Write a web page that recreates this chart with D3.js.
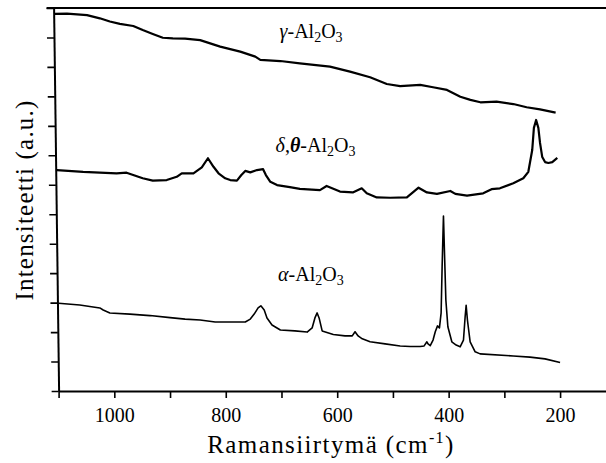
<!DOCTYPE html>
<html><head><meta charset="utf-8">
<script src="https://cdn.jsdelivr.net/npm/d3@7"></script>
<style>body{margin:0;background:#fff} svg{display:block} svg text{font-family:"Liberation Serif","DejaVu Serif","Noto Serif","Times New Roman",Times,serif !important;fill:#000}</style>
</head><body>
<svg id="c" width="606" height="463"></svg>
<script>
// ---- data (Raman shift cm^-1, intensity a.u.) ----
const xTickValues = [1100,1000,900,800,700,600,500,400,300,200];
const xTickLabels = ["","1000","","800","","600","","400","","200"];
const yTickValues = [0,1,2,3,4,5,6,7,8,9,10,11,12,13];

const gammaSeries = [[1108,12.80],[1085,12.81],[1049,12.76],[1026,12.65],[1008,12.54],[990,12.46],[966,12.39],[949,12.25],[931,12.12],[913,11.99],[895,11.97],[873,11.96],[846,11.91],[810,11.69],[774,11.52],[747,11.35],[738,11.24],[702,11.20],[667,11.12],[613,11.01],[577,10.84],[541,10.65],[511,10.42],[487,10.35],[451,10.39],[428,10.31],[403,10.22],[379,9.99],[361,9.88],[343,9.80],[314,9.82],[284,9.74],[260,9.63],[236,9.56],[208,9.45]];

const deltaThetaSeries = [[1103,7.50],[1056,7.44],[996,7.39],[978,7.41],[949,7.22],[931,7.14],[906,7.16],[888,7.27],[879,7.39],[858,7.39],[843,7.59],[832,7.90],[822,7.61],[813,7.39],[801,7.22],[792,7.16],[780,7.14],[772,7.33],[765,7.47],[756,7.42],[744,7.50],[733,7.53],[728,7.33],[720,7.10],[708,6.99],[685,6.92],[667,6.86],[631,6.82],[619,6.96],[595,6.77],[572,6.74],[556,6.88],[547,6.71],[529,6.57],[505,6.56],[475,6.57],[454,6.90],[439,6.74],[421,6.69],[397,6.79],[388,6.69],[367,6.63],[338,6.71],[323,6.85],[308,6.88],[284,7.05],[266,7.22],[257,7.44],[250,8.18],[247,8.93],[243,9.20],[239,8.93],[236,8.42],[232,7.94],[227,7.77],[221,7.74],[214,7.77],[205,7.91]];

const alphaSeries = [[1100,2.98],[1062,2.92],[1026,2.82],[1020,2.75],[1008,2.65],[972,2.61],[936,2.56],[900,2.49],[873,2.44],[846,2.41],[819,2.34],[792,2.34],[765,2.34],[756,2.44],[749,2.61],[742,2.82],[737,2.89],[731,2.75],[726,2.48],[717,2.24],[702,2.07],[676,2.04],[654,2.00],[645,2.14],[640,2.48],[636,2.65],[632.5,2.48],[627,2.04],[607,1.92],[586,1.87],[573,1.87],[568,2.01],[562.5,1.87],[555,1.77],[541,1.67],[514,1.60],[487,1.53],[469,1.51],[451,1.51],[444,1.53],[439,1.67],[437,1.60],[433,1.54],[428,1.73],[424,2.01],[420,2.21],[416.5,2.14],[413.5,2.65],[411.7,4.22],[409.3,5.94],[407.6,4.79],[405,3.09],[401.4,2.18],[394.3,1.67],[386.5,1.56],[379.4,1.50],[373.4,1.73],[370.4,2.52],[368.6,2.91],[366.3,2.41],[361.4,1.67],[352.4,1.33],[343.5,1.26],[284,1.19],[254,1.15],[227,1.09],[200,0.97]];

// ---- layout ----
const svg = d3.select("#c");
const x = d3.scaleLinear().domain([1100, 117.6]).range([58.6, 606]);
const y = d3.scaleLinear().domain([0, 13]).range([391, 8]);
const skewDeg = 0.75;

// bottom axis
const xAxis = d3.axisBottom(x).tickValues(xTickValues).tickSize(7).tickSizeOuter(0)
  .tickFormat((d,i)=>xTickLabels[i]);
const gx = svg.append("g").attr("transform",`translate(0,${y(0)})`).call(xAxis);
gx.attr("font-family",null);
gx.select(".domain").attr("stroke","#000").attr("stroke-width",2.2);
gx.selectAll(".tick line").attr("stroke","#000").attr("stroke-width",1.6);
gx.selectAll(".tick text").attr("font-size",20).attr("dy","1.05em");

// left axis (slightly skewed like the scan)
const gyWrap = svg.append("g")
  .attr("transform",`translate(0,${y(0)}) skewX(${skewDeg}) translate(0,${-y(0)})`);
const gy = gyWrap.append("g").attr("transform",`translate(${x(1100)},0)`)
  .call(d3.axisLeft(y).tickValues(yTickValues).tickSize(7).tickSizeOuter(0).tickFormat(""));
gy.select(".domain").attr("stroke","#000").attr("stroke-width",2);
gy.selectAll(".tick line").attr("stroke","#000").attr("stroke-width",1.6);

// top frame line
const topShift = Math.tan(skewDeg*Math.PI/180)*(y(0)-y(13));
svg.append("line").attr("x1",x(1100)-topShift-7).attr("x2",x.range()[1])
  .attr("y1",y(13)).attr("y2",y(13)).attr("stroke","#000").attr("stroke-width",2.2);

// curves
const line = d3.line().x(d=>x(d[0])).y(d=>y(d[1]));
[[gammaSeries,2.2],[deltaThetaSeries,2.2],[alphaSeries,1.6]].forEach(([s,w])=>{
  svg.append("path").datum(s).attr("d",line).attr("fill","none")
    .attr("stroke","#000").attr("stroke-width",w).attr("stroke-linejoin","round");
});

// curve labels
function chemLabel(px, py, greek){
  const t = svg.append("text").attr("x",px).attr("y",py).attr("font-size",20);
  greek.forEach(g=>{
    t.append("tspan").text(g[0]).attr("font-style",g[0]===","?"normal":"italic")
      .attr("font-weight",g[1]?"bold":"normal");
  });
  t.append("tspan").text("-Al");
  t.append("tspan").text("2").attr("font-size",14).attr("dy",4);
  t.append("tspan").text("O").attr("dy",-4);
  t.append("tspan").text("3").attr("font-size",14).attr("dy",4);
}
chemLabel(x(1100)+221, 38, [["γ",false]]);
chemLabel(x(1100)+217, 152, [["δ",false],[",",false],["θ",true]]);
chemLabel(x(1100)+219.5, 281, [["α",false]]);

// axis titles
const xt = svg.append("text").attr("x",331).attr("y",453).attr("text-anchor","middle")
  .attr("font-size",25).style("letter-spacing","1.4px");
xt.append("tspan").text("Ramansiirtymä (cm");
xt.append("tspan").text("-1").attr("font-size",16).attr("dy",-10);
xt.append("tspan").text(")").attr("dy",10);

svg.append("text").attr("transform","translate(33,200) rotate(-90)")
  .attr("text-anchor","middle").attr("font-size",25).style("letter-spacing","1.2px")
  .text("Intensiteetti (a.u.)");
</script>
</body></html>
